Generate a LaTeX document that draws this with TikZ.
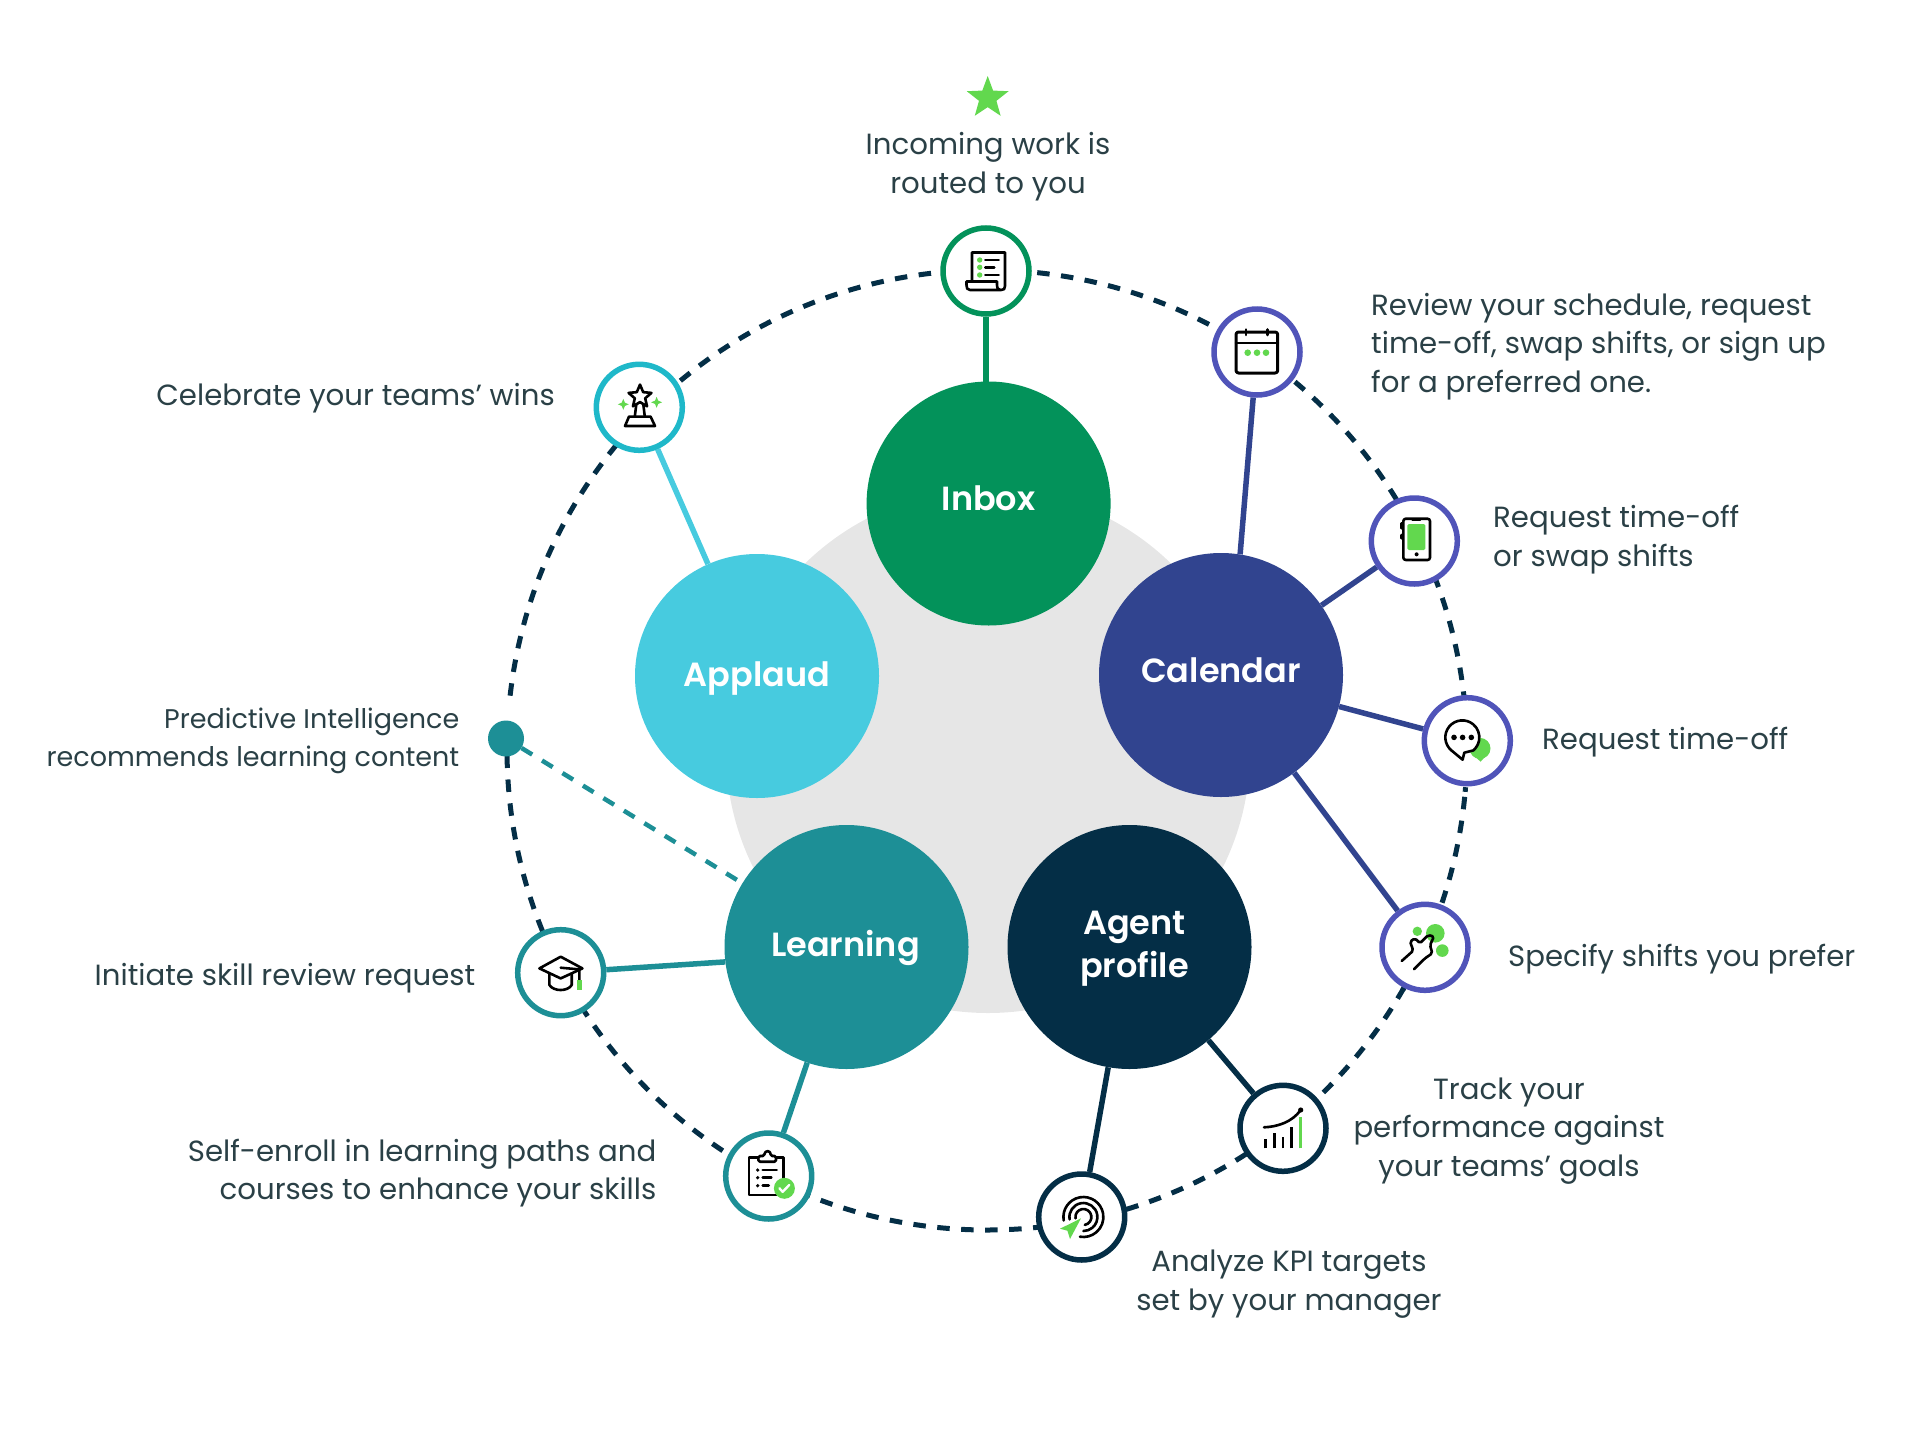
\documentclass[tikz,border=0pt]{standalone}
\usepackage{fontspec}
\setmainfont{Poppins}[BoldFont={Poppins SemiBold}]
\usetikzlibrary{shapes.geometric,backgrounds}
\definecolor{cInbox}{HTML}{03925A}
\definecolor{cCalSpoke}{HTML}{31448F}
\definecolor{cCalRing}{HTML}{5054B9}
\definecolor{cApplaud}{HTML}{47CBDF}
\definecolor{cApplaudRing}{HTML}{1FB8C9}
\definecolor{cLearn}{HTML}{1D8F96}
\definecolor{cAgent}{HTML}{042E46}
\definecolor{cGrey}{HTML}{E6E6E6}
\definecolor{cGreen}{HTML}{62D84E}
\definecolor{cText}{HTML}{2A4046}
\tikzset{
  hub/.style={circle,minimum size=244pt,inner sep=0pt},
  hubtext/.style={text=white,align=center,inner sep=0pt,font=\fontsize{33.5}{43}\selectfont\bfseries},
  ring/.style={circle,draw=#1,fill=white,line width=5.5pt,minimum size=86pt,inner sep=0pt},
  spoke/.style={line width=5.5pt,draw=#1},
  dashring/.style={draw=cAgent,line width=5pt,dash pattern=on 12.5pt off 11.5pt},
  lab/.style={text=cText,font=\fontsize{29.2}{38.7}\selectfont,inner sep=0pt},
  labsmall/.style={text=cText,font=\fontsize{27}{38}\selectfont,inner sep=0pt},
  ink/.style={draw=black,line width=2.6pt,line cap=round,line join=round},
  gdot/.style={fill=cGreen,draw=none}
}
\begin{document}
\begin{tikzpicture}[x=1pt,y=-1pt]
\useasboundingbox (0,0) rectangle (1920,1440);
\coordinate (C) at (987,750);
% hubs
\node[hub,fill=cInbox] (Inbox) at (988.6,503.5) {};
\node[hub,fill=cCalSpoke] (Calendar) at (1221,675) {};
\node[hub,fill=cApplaud] (Applaud) at (757,676) {};
\node[hub,fill=cLearn] (Learning) at (846.5,947) {};
\node[hub,fill=cAgent] (Agent) at (1129.5,947) {};
\node[hubtext] (tInbox) at (988.6,498.5) {Inbox};
\node[hubtext] (tCalendar) at (1221,670) {Calendar};
\node[hubtext] (tApplaud) at (757,678.5) {Applaud};
\node[hubtext] (tLearning) at (845.5,948) {Learning};
\node[hubtext] (tAgent) at (1134.5,948.5) {Agent\\profile};
% ring nodes
\node[ring=cInbox] (iInbox) at (986,271) {};
\node[ring=cCalRing] (iCal) at (1257,352) {};
\node[ring=cCalRing] (iPhone) at (1414.3,541) {};
\node[ring=cCalRing] (iChat) at (1467.3,740.7) {};
\node[ring=cCalRing] (iHand) at (1425,947.3) {};
\node[ring=cAgent] (iChart) at (1283,1128.3) {};
\node[ring=cAgent] (iTarget) at (1081.7,1217) {};
\node[ring=cLearn] (iClip) at (768.7,1176) {};
\node[ring=cLearn] (iHat) at (560.7,972.7) {};
\node[ring=cApplaudRing] (iTrophy) at (639.3,407.3) {};
\node[circle,fill=cLearn,minimum size=36pt,inner sep=0pt] (iDot) at (506,738.5) {};
\begin{scope}[on background layer]
  \fill[cGrey] (988,751) circle[radius=262];
  % dashed ring
  \foreach \a/\b in {-84.0/-50,-50.1/-21,-21.34/5,5.6/30,29.7/57,57.3/84,83.0/117,123.4/152,157.8/181.4,186.5/225,230.3/270}{
    \draw[dashring] (C) ++(\a:480) arc[start angle=\a,end angle=\b,radius=480];
  }
  % spokes
  \draw[spoke=cInbox] (iInbox) -- (iInbox |- Inbox);
  \draw[spoke=cCalSpoke] (Calendar.81) -- (iCal);
  \draw[spoke=cCalSpoke] (Calendar) -- (iPhone);
  \draw[spoke=cCalSpoke] (Calendar) -- (iChat);
  \draw[spoke=cCalSpoke] (Calendar) -- (iHand);
  \draw[spoke=cAgent] (Agent) -- (iChart);
  \draw[spoke=cAgent] (Agent) -- (iTarget);
  \draw[spoke=cLearn] (Learning.187) -- (iHat);
  \draw[spoke=cLearn] (Learning) -- (iClip);
  \draw[cLearn,line width=4.5pt,dash pattern=on 12.5pt off 11.5pt] (iDot) -- (Learning);
  \draw[spoke=cApplaud] (Applaud) -- (iTrophy);
\end{scope}
% icon: inbox
\begin{scope}[shift={(986,271)}]
  \draw[ink] (-14,10) -- (-14,-18.5) -- (19,-18.5) -- (19,15) .. controls (19,18) and (18,19) .. (15,19) -- (-16,19) .. controls (-19,19) and (-19.5,17) .. (-19.5,14) -- (-19.5,10.5) -- (11,10.5) -- (11,14) .. controls (11,18) and (13,19) .. (15,19);
  \foreach \y in {-11,-3.7,4}{\fill[gdot] (-6.3,\y) circle[radius=2.7];}
  \draw[ink] (-0.7,-11) -- (12.7,-11) (-0.7,-3.7) -- (8.3,-3.7) (-0.7,4) -- (12.7,4);
\end{scope}
% icon: calendar
\begin{scope}[shift={(1257,352)}]
  \draw[ink,line width=3pt,rounded corners=2.5pt] (-21,-20) rectangle (20.7,21);
  \draw[ink] (-21,-9) -- (20.7,-9) (-11,-22.5) -- (-11,-17) (10.7,-22.5) -- (10.7,-17);
  \foreach \x in {-9.3,0,9}{\fill[gdot] (\x,0.7) circle[radius=3.3];}
\end{scope}
% icon: phone
\begin{scope}[shift={(1414.3,541)}]
  \fill[gdot,rounded corners=1.5pt] (-7,-17) rectangle (11,9);
  \draw[ink,rounded corners=2.5pt] (-11,-22.3) rectangle (15.7,19);
  \draw[ink] (-2,-21.5) -- (6,-21.5) (-12.7,-17.7) -- (-12.7,-12.7) (-12.7,-6) -- (-12.7,-2.7);
  \fill (2.3,13.3) circle[radius=2];
\end{scope}
% icon: chat
\begin{scope}[shift={(1467.3,740.7)}]
  \fill[gdot] (12.7,7.7) circle[radius=10.5];
  \fill[gdot] (5,13.5) -- (13.3,21) -- (20,13.5) -- cycle;
  \draw[ink,fill=white] (-15.9,9.7) arc[start angle=130,end angle=410,radius=17] -- (-3,12) -- (-4.7,19) -- cycle;
  \foreach \x in {-13.3,-4.7,4}{\fill (\x,-3.3) circle[radius=2.8];}
\end{scope}
% icon: hand
\begin{scope}[shift={(1425,947.3)}]
  \fill[gdot] (10.3,-14) circle[radius=9.3] (-7.7,-16) circle[radius=4.7] (17.3,3.3) circle[radius=6.3];
  \draw[ink,rounded corners=1.8pt] (-23.3,13.7) -- (-11.7,3.3) -- (-15,-5.7) -- (-10,-9) -- (-5,-4) -- (3.3,-12.3) -- (9,-10.7) -- (5,-2.3) -- (7.3,6) -- (0,11) -- (-11,22);
\end{scope}
% icon: chart
\begin{scope}[shift={(1283,1128.3)}]
  \draw[ink] (-19,-1) .. controls (-6,-1.5) and (9,-6) .. (17.7,-18.3);
  \fill (17.7,-18.3) circle[radius=2.6];
  \draw[ink,line cap=butt] (-17.3,20) -- (-17.3,11) (-8.7,20) -- (-8.7,5) (0,20) -- (0,8.3) (8.7,20) -- (8.7,-1.7);
  \draw[cGreen,line width=3.2pt] (17.3,20) -- (17.3,-11);
\end{scope}
% icon: target
\begin{scope}[shift={(1081.7,1217)}]
  \draw[ink] (1.7,0) ++(170:20) arc[start angle=170,end angle=460,radius=20];
  \draw[ink] (1.7,0) ++(170:14) arc[start angle=170,end angle=450,radius=14];
  \draw[ink] (1.7,0) ++(170:8) arc[start angle=170,end angle=440,radius=8];
  \fill[gdot] (-0.7,1.3) -- (-21.7,11.7) -- (-14.3,13.7) -- (-11.7,22) -- cycle;
\end{scope}
% icon: clipboard
\begin{scope}[shift={(768.7,1176)}]
  \draw[ink] (-10.3,-18.7) -- (-19.7,-18.7) -- (-19.7,19) -- (14.7,19) -- (14.7,-18.7) -- (7.3,-18.7);
  \draw[ink,rounded corners=1.5pt] (-10.3,-14.3) -- (-10.3,-20) -- (-4.5,-20) .. controls (-4,-26) and (2,-26) .. (2,-20) -- (7.3,-20) -- (7.3,-14.3) -- cycle;
  \foreach \y in {-6,1.7,9.7}{\fill (-11,\y) circle[radius=1.8];}
  \draw[ink] (-6,-6) -- (8,-6) (-6,1.7) -- (2.7,1.7) (-6,9.7) -- (0,9.7);
  \fill[gdot] (15.7,12.3) circle[radius=10.5];
  \draw[white,line width=2.4pt,line cap=round,line join=round] (10.7,12.3) -- (14,15.8) -- (20.5,9);
\end{scope}
% icon: hat
\begin{scope}[shift={(560.7,972.7)}]
  \draw[ink] (-21.3,-4.3) -- (0,-16) -- (21.7,-4.3) -- (0,5.7) -- cycle;
  \draw[ink] (-11.3,1.3) -- (-11.3,12.3) .. controls (-7,19) and (7,19) .. (11,12.3) -- (11,1.3);
  \draw[ink] (0,-5) -- (18.7,-3.3) -- (18.7,7.3);
  \fill[gdot] (16,7.3) rectangle (21,17.3);
\end{scope}
% icon: trophy
\begin{scope}[shift={(639.3,407.3)}]
  \draw[ink] (0.7,-22.7) -- (3.9,-15.15) -- (12.1,-14.4) -- (5.9,-9) -- (7.75,-1) -- (0.7,-5.2) -- (-6.35,-1) -- (-4.5,-9) -- (-10.7,-14.4) -- (-2.5,-15.15) -- cycle;
  \draw[ink] (-3,-3) -- (-4.5,9.3) (4,-3) -- (5.5,9.3);
  \draw[ink] (-10.3,9.3) -- (11.3,9.3) -- (15.7,18.7) -- (-14.3,18.7) -- cycle;
  \fill[gdot] (-16,-8.5) -- (-14.4,-4.6) -- (-10.5,-3) -- (-14.4,-1.4) -- (-16,2.5) -- (-17.6,-1.4) -- (-21.5,-3) -- (-17.6,-4.6) -- cycle;
  \fill[gdot] (17.3,-10.5) -- (18.9,-6.6) -- (22.8,-5) -- (18.9,-3.4) -- (17.3,0.5) -- (15.7,-3.4) -- (11.8,-5) -- (15.7,-6.6) -- cycle;
\end{scope}
% star
\node[star,star points=5,star point ratio=2.4,fill=cGreen,minimum size=44pt,inner sep=0pt] (topStar) at (987.7,98) {};
% labels
\node[lab,align=center] (l1) at (988,167) {Incoming work is\\routed to you};
\node[lab,align=left,anchor=west] (l2) at (1371,346.5) {Review your schedule, request\\time-off, swap shifts, or sign up\\for a preferred one.};
\node[lab,align=left,anchor=west] (l3) at (1493,539.5) {Request time-off\\or swap shifts};
\node[lab,anchor=west] (l4) at (1542,742) {Request time-off};
\node[lab,anchor=west] (l5) at (1508,959) {Specify shifts you prefer};
\node[lab,align=center] (l6) at (1509,1131) {Track your\\performance against\\your teams’ goals};
\node[lab,align=center] (l7) at (1289,1284) {Analyze KPI targets\\set by your manager};
\node[lab,align=right,anchor=east] (l8) at (656.5,1173) {Self-enroll in learning paths and\\courses to enhance your skills};
\node[lab,anchor=east] (l9) at (475.5,978.5) {Initiate skill review request};
\node[labsmall,align=right,anchor=east] (l10) at (459.5,741) {Predictive Intelligence\\recommends learning content};
\node[lab,anchor=east] (l11) at (555,398) {Celebrate your teams’ wins};
\end{tikzpicture}
\end{document}
